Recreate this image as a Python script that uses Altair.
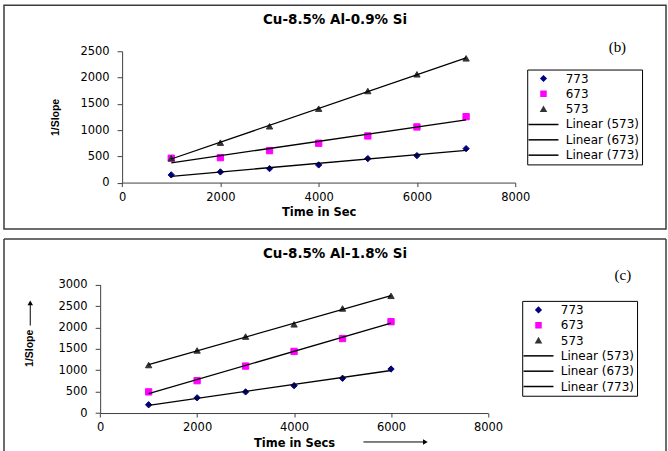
import altair as alt
import pandas as pd

# ---- data -------------------------------------------------------------
# (b) Cu-8.5% Al-0.9% Si
times_b = [1000, 2000, 3000, 4000, 5000, 6000, 7000]
k773_b = [146, 203, 266, 336, 456, 513, 646]
k673_b = [464, 475, 608, 749, 888, 1059, 1255]
k573_b = [464, 760, 1072, 1407, 1743, 2061, 2365]

# (c) Cu-8.5% Al-1.8% Si
times_c = [1000, 2000, 3000, 4000, 5000, 6000]
k773_c = [193, 355, 494, 640, 812, 1028]
k673_c = [494, 756, 1097, 1439, 1740, 2134]
k573_c = [1121, 1462, 1786, 2072, 2443, 2738]

series_names = ["773", "673", "573"]
legend_labels = ["773", "673", "573", "Linear (573)", "Linear (673)", "Linear (773)"]
x_ticks = [0, 2000, 4000, 6000, 8000]
y_ticks_b = [0, 500, 1000, 1500, 2000, 2500]
y_ticks_c = [0, 500, 1000, 1500, 2000, 2500, 3000]

# ---- styling ----------------------------------------------------------
PANEL_W = 663
LINE_SYMBOL = "M-6,0H6"
fill_range = ["#000080", "#ff00ff", "#333333", "transparent", "transparent", "transparent"]
stroke_range = ["#000080", "#ff00ff", "#333333", "black", "black", "black"]
shape_range = ["diamond", "square", "triangle-up", LINE_SYMBOL, LINE_SYMBOL, LINE_SYMBOL]
SANS = "DejaVu Sans"
AXIS_COLOR = "#404040"
BORDER_COLOR = "#3c3c3c"


def long_table(times, a, b, c):
    rows = []
    for name, vals in zip(series_names, [a, b, c]):
        for t, v in zip(times, vals):
            rows.append({"time": t, "val": v, "series": name})
    return pd.DataFrame(rows)


def make_panel(df, title, tag, height, x_range, y_range, y_max, y_ticks,
               x_offset, y_offset, x_title, x_title_y, y_title_x, y_title_y,
               legend_xy, tag_xy):
    legend = alt.Legend(
        title=None, orient="none", legendX=legend_xy[0], legendY=legend_xy[1],
        padding=3, strokeColor="black", fillColor="white",
        labelFont=SANS, labelFontSize=12, labelColor="black",
        symbolSize=25, symbolStrokeWidth=1.5, symbolOffset=7.3,
        labelOffset=16.3, rowPadding=3.35,
    )
    x_enc = alt.X(
        "time:Q",
        scale=alt.Scale(domain=[0, 8000], range=x_range, nice=False),
        axis=alt.Axis(
            orient="bottom", offset=x_offset, values=x_ticks, tickCount=len(x_ticks),
            format="d", grid=False, tickSize=4, labelPadding=4.5, labelFlush=False,
            labelOverlap=False, domainColor=AXIS_COLOR, tickColor=AXIS_COLOR,
            labelFont=SANS, labelFontSize=11.5, labelColor="black",
            title=x_title, titleY=x_title_y, titleBaseline="middle",
            titleFont=SANS, titleFontWeight="bold", titleFontSize=11.5,
            titleColor="black",
        ),
    )
    y_enc = alt.Y(
        "val:Q",
        scale=alt.Scale(domain=[0, y_max], range=y_range, nice=False),
        axis=alt.Axis(
            orient="left", offset=y_offset, values=y_ticks, tickCount=len(y_ticks),
            format="d", grid=False, tickSize=5, labelPadding=8, labelFlush=False,
            labelOverlap=False, domainColor=AXIS_COLOR, tickColor=AXIS_COLOR,
            labelFont=SANS, labelFontSize=11.5, labelColor="black",
            title="1/Slope", titleX=y_title_x, titleY=y_title_y,
            titleAngle=270, titleAlign="center", titleBaseline="middle",
            titleFont="Liberation Sans", titleFontWeight="bold",
            titleFontSize=10.5, titleColor="black",
        ),
    )

    points = alt.Chart(df).mark_point(
        filled=True, opacity=1, size=40, strokeWidth=1
    ).encode(
        x=x_enc,
        y=y_enc,
        color=alt.Color("series:N", scale=alt.Scale(domain=legend_labels, range=fill_range), legend=legend),
        stroke=alt.Stroke("series:N", scale=alt.Scale(domain=legend_labels, range=stroke_range), legend=legend),
        shape=alt.Shape("series:N", scale=alt.Scale(domain=legend_labels, range=shape_range), legend=legend),
    )

    trend = alt.Chart(df).transform_regression(
        "time", "val", groupby=["series"]
    ).mark_line(color="black", strokeWidth=1.3).encode(
        x="time:Q", y="val:Q", detail="series:N"
    )

    heading = alt.Chart(pd.DataFrame({"label": [title]})).mark_text(
        font=SANS, fontWeight="bold", fontSize=13.5, align="center",
        baseline="middle", color="black",
    ).encode(x=alt.value(PANEL_W / 2), y=alt.value(15), text="label:N")

    panel_tag = alt.Chart(pd.DataFrame({"label": [tag]})).mark_text(
        font="Liberation Serif", fontSize=15, align="center",
        baseline="middle", color="black",
    ).encode(x=alt.value(tag_xy[0]), y=alt.value(tag_xy[1]), text="label:N")

    return [points, trend, heading, panel_tag]


df_b = long_table(times_b, k773_b, k673_b, k573_b)
df_c = long_table(times_c, k773_c, k673_c, k573_c)

H_B = 224
H_C = 215

layers_b = make_panel(
    df_b, "Cu-8.5% Al-0.9% Si", "(b)", H_B,
    x_range=[118.3, 512], y_range=[177.5, 46], y_max=2500, y_ticks=y_ticks_b,
    x_offset=177.5 - H_B, y_offset=-118.3,
    x_title="Time in Sec", x_title_y=30, y_title_x=-66.3, y_title_y=111.8,
    legend_xy=(524, 64.3), tag_xy=(614.3, 41.8),
)
top = alt.layer(*layers_b).properties(
    width=PANEL_W, height=H_B,
    view=alt.ViewBackground(stroke=BORDER_COLOR, strokeWidth=1.5),
)

layers_c = make_panel(
    df_c, "Cu-8.5% Al-1.8% Si", "(c)", H_C,
    x_range=[96.3, 484.7], y_range=[174.3, 45.7], y_max=3000, y_ticks=y_ticks_c,
    x_offset=174.3 - H_C, y_offset=-96.3,
    x_title="Time in Secs", x_title_y=30.7, y_title_x=-70.3, y_title_y=109,
    legend_xy=(519, 62), tag_xy=(619.8, 35.8),
)

one_row = pd.DataFrame({"k": [0]})

# frame of the lower panel (its bottom edge runs off the page)
frame_left = alt.Chart(one_row).mark_rule(color=BORDER_COLOR, strokeWidth=1.5).encode(
    x=alt.value(0), y=alt.value(0), y2=alt.value(H_C))
frame_top = alt.Chart(one_row).mark_rule(color=BORDER_COLOR, strokeWidth=1.5).encode(
    x=alt.value(0), x2=alt.value(PANEL_W), y=alt.value(0))
frame_right = alt.Chart(one_row).mark_rule(color=BORDER_COLOR, strokeWidth=1.5).encode(
    x=alt.value(PANEL_W), y=alt.value(0), y2=alt.value(H_C))

# direction arrows next to the axis titles
x_arrow = alt.Chart(one_row).mark_rule(color="black", strokeWidth=1).encode(
    x=alt.value(360), x2=alt.value(421), y=alt.value(203.3))
x_arrow_head = alt.Chart(one_row).mark_point(
    shape="triangle-right", filled=True, size=30, color="black", opacity=1
).encode(x=alt.value(422), y=alt.value(203.3))
y_arrow = alt.Chart(one_row).mark_rule(color="black", strokeWidth=1).encode(
    x=alt.value(26.3), y=alt.value(86.7), y2=alt.value(66))
y_arrow_head = alt.Chart(one_row).mark_point(
    shape="triangle-up", filled=True, size=30, color="black", opacity=1
).encode(x=alt.value(26.3), y=alt.value(64))

bottom = alt.layer(
    *layers_c, frame_left, frame_top, frame_right,
    x_arrow, x_arrow_head, y_arrow, y_arrow_head,
).properties(
    width=PANEL_W, height=H_C,
    view=alt.ViewBackground(stroke="transparent"),
)

chart = alt.vconcat(top, bottom, spacing=7).resolve_scale(
    x="independent", y="independent", color="independent",
    stroke="independent", shape="independent",
).resolve_legend(
    color="independent", stroke="independent", shape="independent",
).properties(
    padding={"left": 2, "top": 4, "right": 0, "bottom": 0},
    background="white",
)

chart.save("out.html", embed_options={"renderer": "svg", "actions": False})
